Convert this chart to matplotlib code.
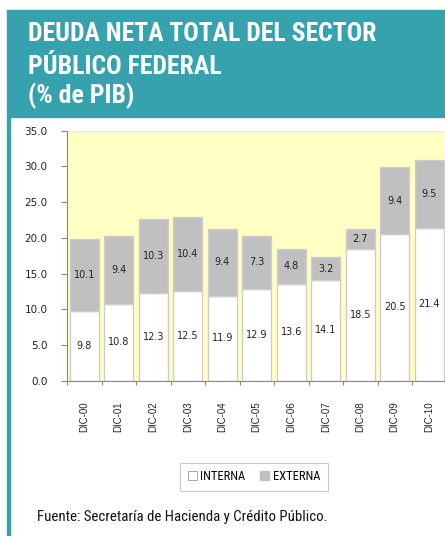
import matplotlib
matplotlib.use('Agg')
import matplotlib.pyplot as plt
from matplotlib import font_manager as fm
from matplotlib.patches import Rectangle, Patch
import numpy as np

# ── Datos ──────────────────────────────────────────────────────────
periodos = ['DIC-00', 'DIC-01', 'DIC-02', 'DIC-03', 'DIC-04', 'DIC-05',
            'DIC-06', 'DIC-07', 'DIC-08', 'DIC-09', 'DIC-10']
interna = [9.8, 10.8, 12.3, 12.5, 11.9, 12.9, 13.6, 14.1, 18.5, 20.5, 21.4]
externa = [10.1, 9.4, 10.3, 10.4, 9.4, 7.3, 4.8, 3.2, 2.7, 9.4, 9.5]

TEAL = '#35A2AE'
GRIS = '#C0C0C0'
BORDE = '#CDCDCD'
AMARILLO = '#FFFFC4'

ANGOSTAS = ['Liberation Sans Narrow', 'Roboto Condensed', 'Archivo Narrow',
            'Fira Sans Condensed', 'PT Sans Narrow', 'Encode Sans Condensed']


def _peso(f):
    w = f.weight
    return w if isinstance(w, int) else fm.weight_dict.get(w, 400)


def elegir(candidatas, negrita=False):
    # primera familia instalada (con variante negrita si se pide)
    for n in candidatas:
        for f in fm.fontManager.ttflist:
            if f.name == n and (not negrita or _peso(f) >= 700):
                return [n, 'DejaVu Sans']
    return ['DejaVu Sans']


narrow = elegir(ANGOSTAS)
narrow_bold = elegir(ANGOSTAS, negrita=True)
sans = ['Liberation Sans', 'DejaVu Sans']

W, H = 445, 536
fig = plt.figure(figsize=(W / 100, H / 100), dpi=100)
renderer = fig.canvas.get_renderer()


def px(x0, y0, x1, y1):
    return (x0 / W, 1 - y1 / H, (x1 - x0) / W, (y1 - y0) / H)


def ajustar_ancho(t, ancho_px):
    # escala el tamaño de letra para que el texto ocupe ancho_px
    ancho = t.get_window_extent(renderer=renderer).width
    t.set_fontsize(t.get_fontsize() * ancho_px / ancho)
    return t.get_fontsize()


# ── Encabezado ─────────────────────────────────────────────────────
bx, by, bw, bh = px(7, 10, 446, 117)
fig.patches.append(Rectangle((bx, by), bw, bh, transform=fig.transFigure,
                             color=TEAL, zorder=0))
lx, ly, lw, lh = px(7, 117, 9.5, 537)
fig.patches.append(Rectangle((lx, ly), lw, lh, transform=fig.transFigure,
                             color=TEAL, zorder=0))

t1 = fig.text(28 / W, 1 - 41 / H, 'DEUDA NETA TOTAL DEL SECTOR',
              color='white', fontsize=19, fontweight='bold',
              family=narrow_bold, va='baseline')
tam = ajustar_ancho(t1, 348)
for txt, base in [('PÚBLICO FEDERAL', 74), ('(% de PIB)', 103)]:
    fig.text(28 / W, 1 - base / H, txt, color='white', fontsize=tam,
             fontweight='bold', family=narrow_bold, va='baseline')

# ── Gráfica ────────────────────────────────────────────────────────
ax = fig.add_axes(px(67, 130.7, 446.5, 380.7))
ax.set_facecolor(AMARILLO)
x = np.arange(len(periodos))
w = 0.85
ax.bar(x, interna, w, color='white', edgecolor=BORDE, lw=1, label='INTERNA')
ax.bar(x, externa, w, bottom=interna, color=GRIS, edgecolor=BORDE, lw=1,
       label='EXTERNA')

for i in range(len(x)):
    ax.text(x[i], interna[i] / 2, f'{interna[i]:.1f}', ha='center',
            va='center', fontsize=7, color='#222222')
    ax.text(x[i], interna[i] + externa[i] / 2, f'{externa[i]:.1f}',
            ha='center', va='center', fontsize=7, color='#222222')

ax.set_xlim(-0.5, len(x) - 0.5)
ax.set_ylim(0, 35)
yt = np.arange(0, 35.1, 5)
ax.set_yticks(yt)
ax.set_yticklabels([f'{v:.1f}' for v in yt], fontsize=7.5, color='#222222')
ax.set_xticks(np.arange(-0.5, len(x), 1))
ax.set_xticklabels([])
ax.set_xticks(x, minor=True)
ax.set_xticklabels(periodos, minor=True, rotation=90, fontsize=7,
                   family=sans, color='#222222')
ax.tick_params(axis='x', which='minor', length=0, pad=15)
ax.tick_params(axis='x', which='major', length=3, color='#888888')
ax.tick_params(axis='y', length=4, color='#888888', pad=10)
for s in ['top', 'right']:
    ax.spines[s].set_visible(False)
ax.spines['left'].set_color('#888888')
ax.spines['bottom'].set_color('#888888')
ax.axhline(35, color='#E8E8E8', lw=1)

# ── Leyenda ────────────────────────────────────────────────────────
handles = [Patch(facecolor='white', edgecolor='#999999', lw=0.6),
           Patch(facecolor=GRIS, edgecolor=GRIS)]
leg = fig.legend(handles, ['INTERNA', 'EXTERNA'], loc='center',
                 bbox_to_anchor=(254 / W, 1 - 476.5 / H), ncol=2,
                 prop={'family': narrow, 'size': 9}, frameon=True,
                 fancybox=False, handlelength=0.7, handleheight=0.7,
                 handletextpad=0.3, columnspacing=1.2, borderpad=0.6)
leg.get_frame().set_edgecolor('#BBBBBB')
leg.get_frame().set_linewidth(0.8)

fuente = fig.text(37 / W, 1 - 517 / H,
                  'Fuente: Secretaría de Hacienda y Crédito Público.',
                  fontsize=10, family=narrow, color='#111111', va='center')
ajustar_ancho(fuente, 289)

fig.savefig('out.png', dpi=100)
